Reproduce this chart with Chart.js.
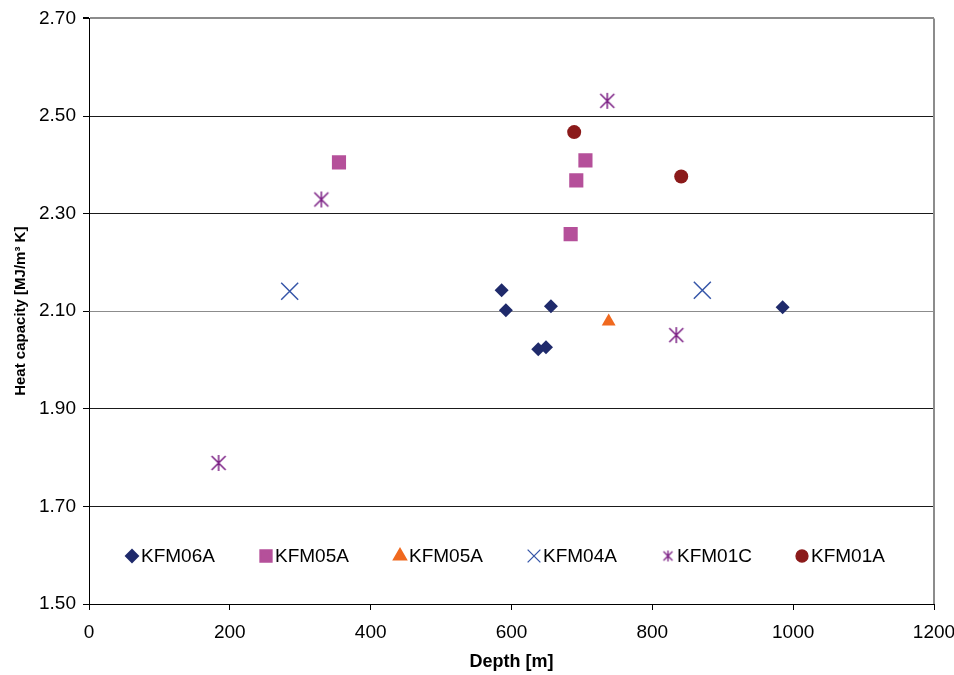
<!DOCTYPE html>
<html>
<head>
<meta charset="utf-8">
<script src="https://cdn.jsdelivr.net/npm/chart.js@4"></script>
<style>
  body { margin: 0; background: #fff; }
  #wrap { width: 954px; height: 675px; }
</style>
</head>
<body>
<div id="wrap"><canvas id="heatChart" width="954" height="675"></canvas></div>
<script>
// values
const kfm06aDepth = [586, 592, 656, 638, 649, 985];
const kfm06aHeat = [2.143, 2.102, 2.110, 2.022, 2.026, 2.108];
const kfm05aDepth = [355, 705, 692, 684];
const kfm05aHeat = [2.405, 2.409, 2.368, 2.258];
const kfm05aTriDepth = [738];
const kfm05aTriHeat = [2.079];
const kfm04aDepth = [285, 871];
const kfm04aHeat = [2.141, 2.143];
const kfm01cDepth = [184, 330, 736, 834];
const kfm01cHeat = [1.789, 2.329, 2.531, 2.051];
const kfm01aDepth = [689, 841];
const kfm01aHeat = [2.467, 2.376];

const seriesNames = ['KFM06A', 'KFM05A', 'KFM05A', 'KFM04A', 'KFM01C', 'KFM01A'];
const xTicks = [0, 200, 400, 600, 800, 1000, 1200];
const yTicks = [1.5, 1.7, 1.9, 2.1, 2.3, 2.5, 2.7];

const FONT = '"Liberation Sans", Arial, sans-serif';
const toPoints = (xs, ys) => xs.map((x, i) => ({ x: x, y: ys[i] }));

// excel style asterisk: vertical bar + X
function makeStar(size, color, lw) {
  const c = document.createElement('canvas');
  c.width = size; c.height = size;
  const g = c.getContext('2d');
  g.strokeStyle = color;
  g.lineWidth = lw;
  const m = size / 2, e = 1;
  g.beginPath();
  g.moveTo(m, e); g.lineTo(m, size - e);
  g.moveTo(e + 1, e + 1); g.lineTo(size - e - 1, size - e - 1);
  g.moveTo(e + 1, size - e - 1); g.lineTo(size - e - 1, e + 1);
  g.stroke();
  return c;
}
const starBig = makeStar(18, '#7B1F84', 1.5);
const starSmall = makeStar(13, '#7B1F84', 1.3);

const datasets = [
  { label: seriesNames[0], data: toPoints(kfm06aDepth, kfm06aHeat), pointStyle: 'rectRot', radius: 7, color: '#1F2A6B' },
  { label: seriesNames[1], data: toPoints(kfm05aDepth, kfm05aHeat), pointStyle: 'rect', radius: 10, color: '#B5509A' },
  { label: seriesNames[2], data: toPoints(kfm05aTriDepth, kfm05aTriHeat), pointStyle: 'triangle', radius: 8, color: '#F0691F' },
  { label: seriesNames[3], data: toPoints(kfm04aDepth, kfm04aHeat), pointStyle: 'crossRot', radius: 12, color: '#3555A8', line: true },
  { label: seriesNames[4], data: toPoints(kfm01cDepth, kfm01cHeat), pointStyle: starBig, radius: 9, color: '#7B1F84', line: true },
  { label: seriesNames[5], data: toPoints(kfm01aDepth, kfm01aHeat), pointStyle: 'circle', radius: 7, color: '#8B1A1A' }
].map(d => ({
  label: d.label,
  data: d.data,
  showLine: false,
  pointStyle: d.pointStyle,
  pointRadius: d.radius,
  pointHoverRadius: d.radius,
  backgroundColor: d.color,
  borderColor: d.color,
  pointBorderWidth: d.line ? 1.5 : 0
}));

const legendStyles = [
  { style: 'rectRot', r: 6 },
  { style: 'rect', r: 8 },
  { style: 'triangle', r: 7 },
  { style: 'crossRot', r: 9, line: true },
  { style: starSmall, r: 6 },
  { style: 'circle', r: 6 }
];

const insideLegend = {
  id: 'insideLegend',
  afterDraw(chart) {
    const ctx = chart.ctx;
    const area = chart.chartArea;
    const y = area.bottom - 48;
    ctx.save();
    // right frame in grey
    ctx.strokeStyle = '#8c8c8c';
    ctx.lineWidth = 2;
    ctx.beginPath();
    ctx.moveTo(area.right, area.top);
    ctx.lineTo(area.right, area.bottom);
    ctx.stroke();

    ctx.font = '19px ' + FONT;
    ctx.textBaseline = 'middle';
    legendStyles.forEach((s, i) => {
      const ds = chart.data.datasets[i];
      const cx = area.left + 43 + i * 134;
      if (typeof s.style === 'string') {
        ctx.fillStyle = ds.backgroundColor;
        ctx.strokeStyle = ds.borderColor;
        ctx.lineWidth = s.line ? 1.3 : 0;
        Chart.helpers.drawPoint(ctx, { pointStyle: s.style, radius: s.r, rotation: 0, borderWidth: ctx.lineWidth }, cx, y);
      } else {
        ctx.drawImage(s.style, cx - s.style.width / 2, y - s.style.height / 2);
      }
      ctx.fillStyle = '#000';
      ctx.fillText(ds.label, cx + 9, y + 1);
    });
    ctx.restore();
  }
};

const greyLine = v => Math.abs(v - 2.1) < 1e-6 || Math.abs(v - 2.7) < 1e-6;

new Chart(document.getElementById('heatChart'), {
  type: 'scatter',
  data: { datasets: datasets },
  options: {
    responsive: false,
    animation: false,
    layout: { padding: { top: 18, right: 0, left: 0, bottom: 0 } },
    plugins: {
      legend: { display: false },
      tooltip: { enabled: false }
    },
    scales: {
      x: {
        type: 'linear',
        min: 0,
        max: 1200,
        afterFit: s => { s.height = 71; s.paddingRight = 20; s.paddingLeft = 0; },
        afterBuildTicks: s => { s.ticks = xTicks.map(v => ({ value: v })); },
        grid: { drawOnChartArea: false, tickLength: 6, tickColor: '#000' },
        border: { color: '#000', width: 1 },
        ticks: {
          color: '#000',
          padding: 11,
          maxRotation: 0,
          callback: v => String(v),
          font: { family: FONT, size: 19 }
        },
        title: {
          display: true,
          text: 'Depth [m]',
          color: '#000',
          padding: { top: 0, bottom: 2 },
          font: { family: FONT, size: 18, weight: 'bold' }
        }
      },
      y: {
        type: 'linear',
        min: 1.5,
        max: 2.7,
        afterFit: s => { s.width = 89; },
        afterBuildTicks: s => { s.ticks = yTicks.map(v => ({ value: v })); },
        grid: {
          color: c => greyLine(c.tick.value) ? '#8c8c8c' : '#1a1a1a',
          lineWidth: c => Math.abs(c.tick.value - 2.7) < 1e-6 ? 2 : 1,
          tickLength: 6,
          tickColor: '#000'
        },
        border: { color: '#000', width: 1 },
        ticks: {
          color: '#000',
          padding: 7,
          callback: v => Number(v).toFixed(2),
          font: { family: FONT, size: 19 }
        },
        title: {
          display: true,
          text: 'Heat capacity [MJ/m³ K]',
          color: '#000',
          padding: { top: 12, bottom: 0 },
          font: { family: FONT, size: 15, weight: 'bold' }
        }
      }
    }
  },
  plugins: [insideLegend]
});
</script>
</body>
</html>
